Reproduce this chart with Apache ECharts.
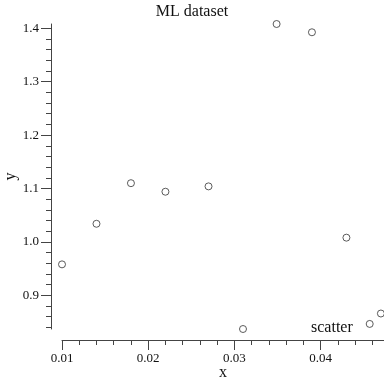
<!DOCTYPE html>
<html>
<head>
<meta charset="utf-8">
<script src="https://cdn.jsdelivr.net/npm/echarts@6/dist/echarts.min.js"></script>
<style>html,body{margin:0;padding:0;background:#fff}#c{width:384px;height:384px}</style>
</head>
<body>
<div id="c"></div>
<script>
const xValues = [0.0100, 0.0140, 0.0180, 0.0220, 0.0270, 0.0310, 0.0349, 0.0390, 0.0430, 0.0457, 0.0470];
const yValues = [0.958, 1.034, 1.110, 1.094, 1.104, 0.837, 1.408, 1.3925, 1.008, 0.8465, 0.866];
const xMajorTicks = [0.01, 0.02, 0.03, 0.04];
const xMinorTicks = [0.012, 0.014, 0.016, 0.018, 0.022, 0.024, 0.026, 0.028, 0.032, 0.034, 0.036, 0.038, 0.042, 0.044, 0.046];
const yMajorTicks = [0.9, 1.0, 1.1, 1.2, 1.3, 1.4];
const yMinorTicks = [0.84, 0.86, 0.88, 0.92, 0.94, 0.96, 0.98, 1.02, 1.04, 1.06, 1.08, 1.12, 1.14, 1.16, 1.18, 1.22, 1.24, 1.26, 1.28, 1.32, 1.34, 1.36, 1.38, 1.40];

const FONT = 'Liberation Serif';
const TXT = '#111';
const AX = '#444';
const xMin = 0.01, xMax = 0.04736, yMin = 0.837, yMax = 1.408;

const chart = echarts.init(document.getElementById('c'), null, {renderer: 'canvas'});
chart.setOption({
  animation: false,
  backgroundColor: '#fff',
  title: {
    text: 'ML dataset', left: 'center', top: 4, padding: 0,
    textStyle: {fontFamily: FONT, fontSize: 16, fontWeight: 'normal', color: TXT}
  },
  legend: {
    data: ['scatter'], left: 305, top: 320, padding: 0,
    itemWidth: 0, itemHeight: 0, itemGap: 0, selectedMode: false,
    textStyle: {fontFamily: FONT, fontSize: 16, color: TXT, padding: 0}
  },
  grid: {left: 62, right: 0, top: 24, bottom: 55, containLabel: false, outerBoundsMode: 'none'},
  xAxis: [{
    type: 'value', min: xMin, max: xMax, offset: 11,
    name: 'x', nameLocation: 'middle', nameGap: 25, nameMoveOverlap: false,
    nameTextStyle: {fontFamily: FONT, fontSize: 16, color: TXT},
    axisLine: {show: true, lineStyle: {color: AX, width: 1}},
    axisTick: {show: true, length: 10, customValues: xMajorTicks, lineStyle: {color: AX}},
    axisLabel: {customValues: xMajorTicks, fontFamily: FONT, fontSize: 13, color: TXT, margin: 12,
      formatter: v => v.toFixed(2)},
    splitLine: {show: false}
  }, {
    type: 'value', min: xMin, max: xMax, offset: 11, position: 'bottom',
    axisLine: {show: false},
    axisTick: {show: true, length: 5, customValues: xMinorTicks, lineStyle: {color: AX}},
    axisLabel: {show: false},
    splitLine: {show: false}
  }],
  yAxis: [{
    type: 'value', min: yMin, max: yMax, offset: 11,
    name: 'y', nameLocation: 'middle', nameGap: 32, nameMoveOverlap: false,
    nameTextStyle: {fontFamily: FONT, fontSize: 16, color: TXT},
    axisLine: {show: true, lineStyle: {color: AX, width: 1}},
    axisTick: {show: true, length: 10, customValues: yMajorTicks, lineStyle: {color: AX}},
    axisLabel: {customValues: yMajorTicks, fontFamily: FONT, fontSize: 13, color: TXT, margin: 12,
      formatter: v => v.toFixed(1)},
    splitLine: {show: false}
  }, {
    type: 'value', min: yMin, max: yMax, offset: 11, position: 'left',
    axisLine: {show: false},
    axisTick: {show: true, length: 5, customValues: yMinorTicks, lineStyle: {color: AX}},
    axisLabel: {show: false},
    splitLine: {show: false}
  }],
  series: [{
    name: 'scatter', type: 'scatter', xAxisIndex: 0, yAxisIndex: 0,
    symbol: 'circle', symbolSize: 7, clip: false,
    itemStyle: {color: '#fff', borderColor: '#333', borderWidth: 1},
    data: xValues.map((x, i) => [x, yValues[i]])
  }]
});
</script>
</body>
</html>
